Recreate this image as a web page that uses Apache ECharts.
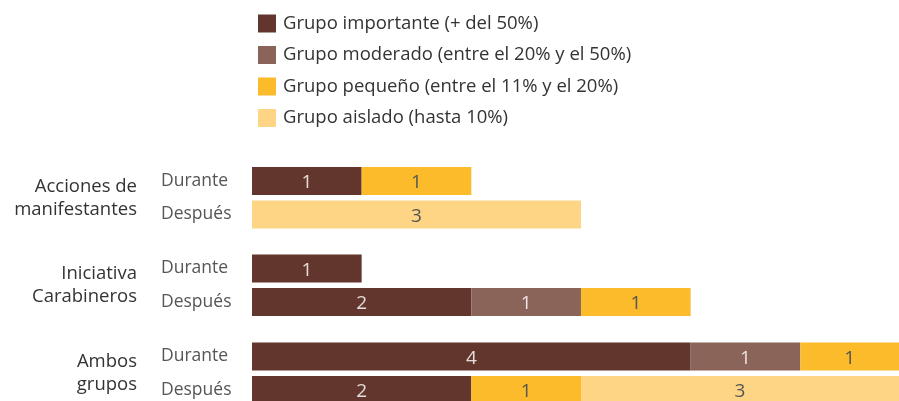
<!DOCTYPE html>
<html><head><meta charset="utf-8">
<script src="https://cdn.jsdelivr.net/npm/echarts@6/dist/echarts.min.js"></script>
<style>html,body{margin:0;padding:0;background:#fff}#c{width:899px;height:401px}</style>
</head><body><div id="c"></div>
<script>
const groups = ['Acciones de\nmanifestantes', 'Iniciativa\nCarabineros', 'Ambos\ngrupos'];
const periods = ['Durante', 'Después'];
const seriesNames = ['Grupo importante (+ del 50%)', 'Grupo moderado (entre el 20% y el 50%)', 'Grupo pequeño (entre el 11% y el 20%)', 'Grupo aislado (hasta 10%)'];
// rows: Acciones-Durante, Acciones-Después, Iniciativa-Durante, Iniciativa-Después, Ambos-Durante, Ambos-Después
const importante = [1, 0, 1, 2, 4, 2];
const moderado   = [0, 0, 0, 1, 1, 0];
const pequeno    = [1, 0, 0, 1, 1, 1];
const aislado    = [0, 3, 0, 0, 0, 3];

const values = [importante, moderado, pequeno, aislado];
const colors = ['#62362c', '#8a6359', '#fbbb2b', '#fed585'];
const labelColors = ['#e6dcd9', '#ece4e1', '#555555', '#555555'];
const FONT = 'Open Sans';
const tops = [181, 268.5, 356.5];

const grids = [], xAxes = [], yAxes = [], series = [];
groups.forEach((g, gi) => {
  grids.push({ left: 252, top: tops[gi], width: 647, height: 33.5, outerBoundsMode: 'none', containLabel: false });
  xAxes.push({ gridIndex: gi, type: 'value', min: 0, max: 5.9, show: false });
  yAxes.push({
    gridIndex: gi, type: 'category', data: periods, inverse: true, boundaryGap: false,
    axisLine: { show: false }, axisTick: { show: false }, splitLine: { show: false },
    axisLabel: { align: 'left', margin: 91, fontFamily: FONT, fontSize: 17.5, color: '#555' },
    name: g, nameLocation: 'middle', nameRotate: 0, nameGap: 115,
    nameTextStyle: { align: 'right', verticalAlign: 'middle', fontFamily: FONT, fontSize: 18.5, color: '#333', lineHeight: 23 }
  });
  values.forEach((arr, si) => {
    series.push({
      name: seriesNames[si], type: 'bar', stack: 'g' + gi,
      xAxisIndex: gi, yAxisIndex: gi, barWidth: 28,
      itemStyle: { color: colors[si] },
      data: [arr[gi * 2], arr[gi * 2 + 1]].map(v => v === 0 ? '-' : v),
      label: { show: true, position: 'inside', offset: [0, 2], fontFamily: FONT, fontSize: 19, color: labelColors[si] }
    });
  });
});

const chart = echarts.init(document.getElementById('c'), null, { renderer: 'canvas' });
chart.setOption({
  animation: false,
  legend: {
    data: seriesNames, orient: 'vertical', left: 253, top: 9,
    itemWidth: 18, itemHeight: 18, itemGap: 12.5, icon: 'rect',
    textStyle: { fontFamily: FONT, fontSize: 18.5, color: '#333', padding: [0, 0, 0, 2] }
  },
  grid: grids, xAxis: xAxes, yAxis: yAxes, series: series
});
</script></body></html>
